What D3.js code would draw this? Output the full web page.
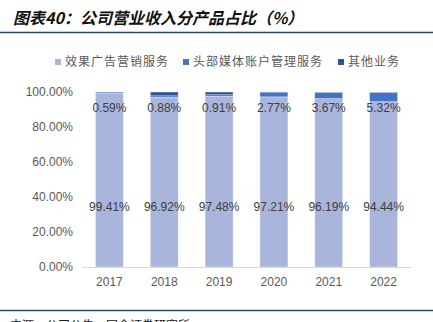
<!DOCTYPE html>
<html><head><meta charset="utf-8">
<script src="https://cdn.jsdelivr.net/npm/d3@7"></script>
<style>
body{margin:0;background:#fff;}
svg{display:block;}
</style></head>
<body>
<svg id="c" width="433" height="322"></svg>
<script>
const years = ["2017","2018","2019","2020","2021","2022"];
const seriesNames = ["效果广告营销服务","头部媒体账户管理服务","其他业务"];
const adService = [99.41, 96.92, 97.48, 97.21, 96.19, 94.44];
const mediaService = [0.59, 0.88, 0.91, 2.77, 3.67, 5.32];
const otherService = [0.00, 2.20, 1.61, 0.02, 0.14, 0.24];
const yTicks = [0, 20, 40, 60, 80, 100];
const colors = ["#a9b5db", "#4472c4", "#2f5597"];

const svg = d3.select("#c");
const font = "'Liberation Sans', 'Noto Sans CJK SC', sans-serif";
const cjk = "'Noto Sans CJK SC', sans-serif";

// Title
svg.append("text").attr("x", 13).attr("y", 24)
  .attr("font-family", cjk).attr("font-size", 16).attr("font-weight", "bold")
  .attr("font-style", "italic").attr("fill", "#111")
  .text("图表40：公司营业收入分产品占比（%）");
svg.append("line").attr("x1", 0).attr("x2", 433).attr("y1", 32.5).attr("y2", 32.5)
  .attr("stroke", "#244a72").attr("stroke-width", 1.5);

// Scales
const x = d3.scaleBand().domain(years).range([82, 411]).paddingInner(0.49).paddingOuter(0.245);
const y = d3.scaleLinear().domain([0, 100]).range([267, 92]);

const rows = years.map((yr, i) => ({year: yr, a: adService[i], b: mediaService[i], c: otherService[i]}));
const stack = d3.stack().keys(["a","b","c"])(rows);

// Y axis labels
svg.append("g").selectAll("text").data(yTicks).join("text")
  .attr("x", 73).attr("y", d => y(d)).attr("dy", "0.35em")
  .attr("text-anchor", "end").attr("font-family", font).attr("font-size", 12)
  .attr("fill", "#595959").text(d => d.toFixed(2) + "%");

// Bars
svg.append("g").selectAll("g").data(stack).join("g")
  .attr("fill", (d, i) => colors[i])
  .selectAll("rect").data(d => d).join("rect")
  .attr("x", d => x(d.data.year)).attr("width", x.bandwidth())
  .attr("y", d => y(d[1])).attr("height", d => Math.max(0, y(d[0]) - y(d[1])))
  .attr("stroke", "#ffffff").attr("stroke-width", 0.6).attr("stroke-opacity", 0.6);

// X axis line
svg.append("line").attr("x1", 82).attr("x2", 411).attr("y1", 267.5).attr("y2", 267.5)
  .attr("stroke", "#d9d9d9").attr("stroke-width", 1);

// X labels
svg.append("g").selectAll("text").data(years).join("text")
  .attr("x", d => x(d) + x.bandwidth() / 2).attr("y", 282).attr("dy", "0.35em")
  .attr("text-anchor", "middle").attr("font-family", font).attr("font-size", 12)
  .attr("fill", "#595959").text(d => d);

// Data labels
svg.append("g").selectAll("text").data(rows).join("text")
  .attr("x", d => x(d.year) + x.bandwidth() / 2).attr("y", y(34.3)).attr("dy", "0.35em")
  .attr("text-anchor", "middle").attr("font-family", font).attr("font-size", 12)
  .attr("fill", "#404040").text(d => d.a.toFixed(2) + "%");
svg.append("g").selectAll("text").data(rows).join("text")
  .attr("x", d => x(d.year) + x.bandwidth() / 2).attr("y", y(91)).attr("dy", "0.35em")
  .attr("text-anchor", "middle").attr("font-family", font).attr("font-size", 12)
  .attr("fill", "#404040").text(d => d.b.toFixed(2) + "%");

// Legend
const legX = [55, 183, 338];
const leg = svg.append("g").selectAll("g").data(seriesNames).join("g")
  .attr("transform", (d, i) => `translate(${legX[i]},62)`);
leg.append("rect").attr("x", 0).attr("y", -3).attr("width", 6).attr("height", 6)
  .attr("fill", (d, i) => colors[i]);
leg.append("text").attr("x", 10).attr("y", 0).attr("dy", "0.35em")
  .attr("font-family", cjk).attr("font-size", 12).attr("letter-spacing", 1)
  .attr("fill", "#595959").text(d => d);

// Bottom line and source
svg.append("line").attr("x1", 0).attr("x2", 433).attr("y1", 310.5).attr("y2", 310.5)
  .attr("stroke", "#244a72").attr("stroke-width", 1.5);
svg.append("text").attr("x", 10).attr("y", 330)
  .attr("font-family", cjk).attr("font-size", 12).attr("fill", "#222")
  .text("来源：公司公告，国金证券研究所");
</script>
</body></html>
